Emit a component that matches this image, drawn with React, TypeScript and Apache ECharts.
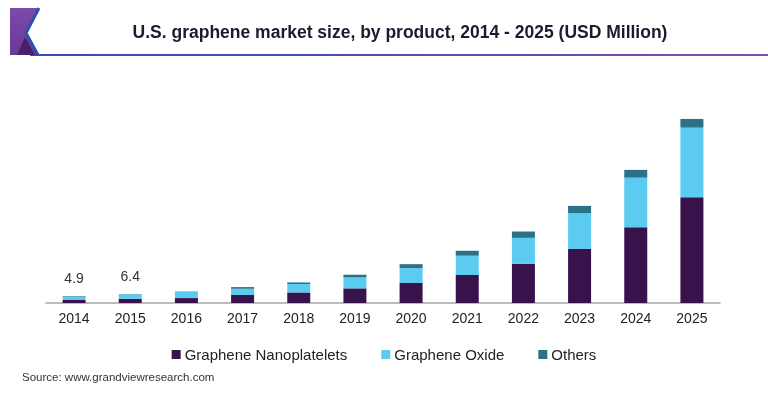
import React, { useEffect, useRef } from "react";
import * as echarts from "echarts";

const years = ["2014", "2015", "2016", "2017", "2018", "2019", "2020", "2021", "2022", "2023", "2024", "2025"];
const nanoplatelets = [2.1, 3.0, 3.5, 5.7, 7.5, 10.4, 14.2, 19.9, 27.9, 38.5, 53.9, 75.2];
const oxide = [2.6, 3.2, 4.3, 4.4, 6.0, 7.8, 10.6, 13.7, 18.4, 25.3, 35.2, 49.4];
const others = [0.2, 0.2, 0.3, 1.2, 1.1, 1.9, 2.8, 3.5, 4.5, 5.2, 5.5, 6.2];
const labelledYears = ["2014", "2015"];

const TITLE = "U.S. graphene market size, by product, 2014 - 2025 (USD Million)";
const SOURCE = "Source: www.grandviewresearch.com";

export default function App() {
  const ref = useRef<HTMLDivElement>(null);
  useEffect(() => {
    if (!ref.current) return;
    const chart = echarts.init(ref.current, null, { renderer: "svg" });
    const font = "'Liberation Sans', Arial, sans-serif";
    const othersData = others.map((v, i) => {
      const total = nanoplatelets[i] + oxide[i] + v;
      if (labelledYears.includes(years[i])) {
        return {
          value: v,
          label: {
            show: true,
            position: "top",
            distance: 11,
            formatter: total.toFixed(1),
            fontSize: 14,
            color: "#333",
            fontFamily: font,
          },
        };
      }
      return v;
    });
    chart.setOption({
      animation: false,
      textStyle: { fontFamily: font },
      title: {
        text: TITLE,
        left: 395,
        top: 18,
        textAlign: "center",
        textStyle: { fontSize: 17.5, fontWeight: "bold", color: "#1c1a2e", fontFamily: font },
      },
      graphic: [
        {
          type: "rect",
          shape: { x: 30, y: 54, width: 738, height: 2 },
          style: {
            fill: new echarts.graphic.LinearGradient(0, 0, 1, 0, [
              { offset: 0, color: "#2f4fb0" },
              { offset: 0.6, color: "#5a4db0" },
              { offset: 1, color: "#8a4ab0" },
            ]),
          },
        },
        {
          type: "polygon",
          shape: { points: [[10, 8], [38, 8], [25, 33], [37, 55], [10, 55]] },
          style: {
            fill: new echarts.graphic.LinearGradient(0, 0, 0, 1, [
              { offset: 0, color: "#7c4aa8" },
              { offset: 1, color: "#6a3a98" },
            ]),
          },
        },
        {
          type: "polygon",
          shape: { points: [[17, 55], [25, 37], [35, 55]] },
          style: { fill: "#4a1f6e" },
        },
        {
          type: "polyline",
          shape: { points: [[39, 8], [26, 33], [38, 55]] },
          style: { stroke: "#2f4fb0", lineWidth: 3, fill: "none" },
        },
        {
          type: "text",
          left: 22,
          top: 371,
          style: { text: SOURCE, fontSize: 11.5, fill: "#333", fontFamily: font },
        },
      ],
      legend: {
        top: 342,
        left: "center",
        itemWidth: 9,
        itemHeight: 9,
        itemGap: 34,
        icon: "rect",
        textStyle: { fontSize: 15, color: "#222", fontFamily: font, padding: [0, 0, 0, -1] },
        data: ["Graphene Nanoplatelets", "Graphene Oxide", "Others"],
      },
      grid: { left: 46, right: 48, top: 106, bottom: 90 },
      xAxis: {
        type: "category",
        data: years,
        axisLine: { lineStyle: { color: "#a6a6a6", width: 1.5 } },
        axisTick: { show: false },
        axisLabel: { fontSize: 14, color: "#222", margin: 8, fontFamily: font },
      },
      yAxis: {
        type: "value",
        min: 0,
        max: 140,
        show: false,
        splitLine: { show: false },
      },
      series: [
        {
          name: "Graphene Nanoplatelets",
          type: "bar",
          stack: "total",
          barWidth: 23,
          data: nanoplatelets,
          itemStyle: { color: "#38124b" },
        },
        {
          name: "Graphene Oxide",
          type: "bar",
          stack: "total",
          barWidth: 23,
          data: oxide,
          itemStyle: { color: "#5ccbf2" },
        },
        {
          name: "Others",
          type: "bar",
          stack: "total",
          barWidth: 23,
          data: othersData,
          itemStyle: { color: "#2c7287" },
        },
      ],
    });
    return () => chart.dispose();
  }, []);
  return <div ref={ref} style={{ position: "fixed", left: 0, top: 0, width: 768, height: 393 }} />;
}
